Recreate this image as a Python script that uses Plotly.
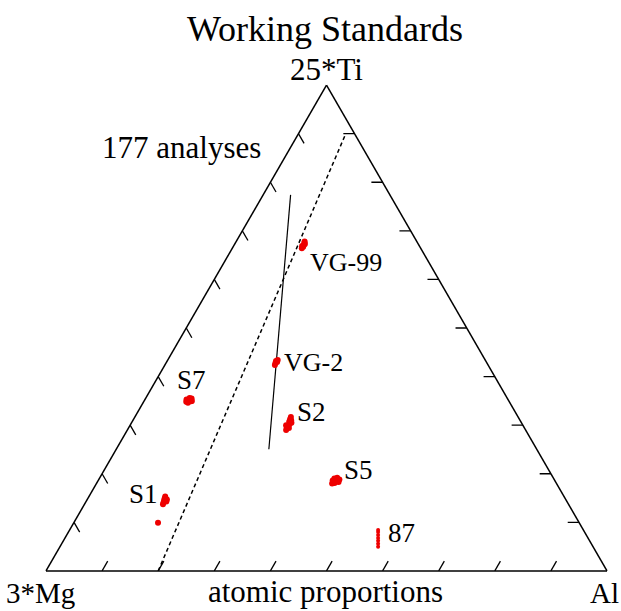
import plotly.graph_objects as go

# Corner quantities of the ternary diagram
corner_top = "25*Ti"
corner_left = "3*Mg"
corner_right = "Al"
title_text = "Working Standards"
count_text = "177 analyses"
scale_text = "atomic proportions"

# Working-standard analyses: Ti and Al fractions (Mg is the remainder)
vg99_ti = [0.664, 0.667, 0.671, 0.675, 0.678, 0.669, 0.673]
vg99_al = [0.124, 0.125, 0.124, 0.123, 0.122, 0.122, 0.125]

vg2_ti = [0.424, 0.428, 0.432, 0.434, 0.430]
vg2_al = [0.196, 0.195, 0.194, 0.196, 0.197]

s7_ti = [0.348, 0.352, 0.355, 0.350, 0.353, 0.349, 0.346, 0.356]
s7_al = [0.076, 0.079, 0.082, 0.085, 0.074, 0.084, 0.080, 0.078]

s2_ti = [0.290, 0.296, 0.302, 0.307, 0.312, 0.317, 0.300, 0.305, 0.294, 0.310]
s2_al = [0.283, 0.281, 0.283, 0.280, 0.279, 0.278, 0.278, 0.285, 0.286, 0.282]

s5_ti = [0.180, 0.184, 0.188, 0.192, 0.186, 0.183, 0.190, 0.181]
s5_al = [0.420, 0.426, 0.429, 0.423, 0.418, 0.430, 0.419, 0.424]

s1_ti = [0.137, 0.141, 0.145, 0.149, 0.153, 0.143, 0.147, 0.0994]
s1_al = [0.140, 0.139, 0.138, 0.137, 0.136, 0.143, 0.142, 0.150]

std87_ti = [0.050, 0.056, 0.062, 0.068, 0.074, 0.080, 0.084]
std87_al = [0.567, 0.564, 0.561, 0.558, 0.555, 0.552, 0.550]

# Reference lines (Ti, Al at each end)
dash_ti = [0.0, 0.895]
dash_al = [0.2, 0.085]
solid_ti = [0.774, 0.2505]
solid_al = [0.049, 0.272]

tick_values = [0.1, 0.2, 0.3, 0.4, 0.5, 0.6, 0.7, 0.8, 0.9]

labels = ["VG-99", "VG-2", "S7", "S2", "S5", "S1", "87"]

W, H = 621, 611
FONT = "Liberation Serif"

def mg_of(ti, al):
    return [None if t is None else round(1 - t - a, 4) for t, a in zip(ti, al)]

fig = go.Figure()

# Edge tick marks: left edge -> along constant Mg, right edge -> constant Ti,
# bottom edge -> constant Al
tl = 0.02
tk_ti, tk_al = [], []
for v in tick_values:
    # left edge (Al = 0), Mg = 1 - v
    tk_ti += [v, v - tl, None]
    tk_al += [0.0, tl, None]
    # right edge (Mg = 0), Ti = v
    tk_ti += [v, v, None]
    tk_al += [1 - v, 1 - v - tl, None]
    # bottom edge (Ti = 0), Al = v
    tk_ti += [0.0, tl, None]
    tk_al += [v, v, None]
fig.add_trace(go.Scatterternary(
    a=tk_ti, c=tk_al, b=mg_of(tk_ti, tk_al), mode="lines",
    line=dict(color="black", width=1.3), hoverinfo="skip", showlegend=False,
    connectgaps=False))

fig.add_trace(go.Scatterternary(
    a=dash_ti, c=dash_al, b=mg_of(dash_ti, dash_al), mode="lines",
    line=dict(color="black", width=1.5, dash="4px,3px"),
    hoverinfo="skip", showlegend=False))
fig.add_trace(go.Scatterternary(
    a=solid_ti, c=solid_al, b=mg_of(solid_ti, solid_al), mode="lines",
    line=dict(color="black", width=1.2),
    hoverinfo="skip", showlegend=False))

groups = [
    ("VG-99", vg99_ti, vg99_al),
    ("VG-2", vg2_ti, vg2_al),
    ("S7", s7_ti, s7_al),
    ("S2", s2_ti, s2_al),
    ("S5", s5_ti, s5_al),
    ("S1", s1_ti, s1_al),
    ("87", std87_ti, std87_al),
]
for name, ti, al in groups:
    fig.add_trace(go.Scatterternary(
        a=ti, c=al, b=mg_of(ti, al), mode="markers", name=name,
        marker=dict(color="#ee0000", size=6 if name != "87" else 4,
                    line=dict(width=0)),
        showlegend=False))

axis_style = dict(showline=True, linecolor="black", linewidth=1.5,
                  showgrid=False, ticks="", showticklabels=False,
                  title=dict(text=""))

fig.update_layout(
    width=W, height=H,
    margin=dict(l=0, r=0, t=0, b=0),
    paper_bgcolor="white",
    showlegend=False,
    ternary=dict(
        domain=dict(x=[46 / W, 607 / W], y=[40 / H, 526 / H]),
        sum=1, bgcolor="white",
        aaxis=axis_style, baxis=axis_style, caxis=axis_style,
    ),
)

def px(x, y, text, size, xanchor="left", yanchor="middle"):
    fig.add_annotation(
        x=x / W, y=1 - y / H, xref="paper", yref="paper", text=text,
        showarrow=False, xanchor=xanchor, yanchor=yanchor,
        font=dict(family=FONT, size=size, color="black"))

px(325, 29, title_text, 36, xanchor="center")
px(326, 69, corner_top, 31, xanchor="center")
px(4, 611, corner_left, 29, yanchor="bottom")
px(621, 611, corner_right, 29, xanchor="right", yanchor="bottom")
px(325, 611, scale_text, 31, xanchor="center", yanchor="bottom")
px(100, 147, count_text, 31)

label_pos = {"VG-99": (308, 262), "VG-2": (282, 362), "S7": (175, 380),
             "S2": (295, 412), "S5": (342, 470), "S1": (127, 494),
             "87": (386, 533)}
for name in labels:
    x, y = label_pos[name]
    px(x, y, name, 26 if name.startswith("VG") else 27)

fig.write_html("out.html")
